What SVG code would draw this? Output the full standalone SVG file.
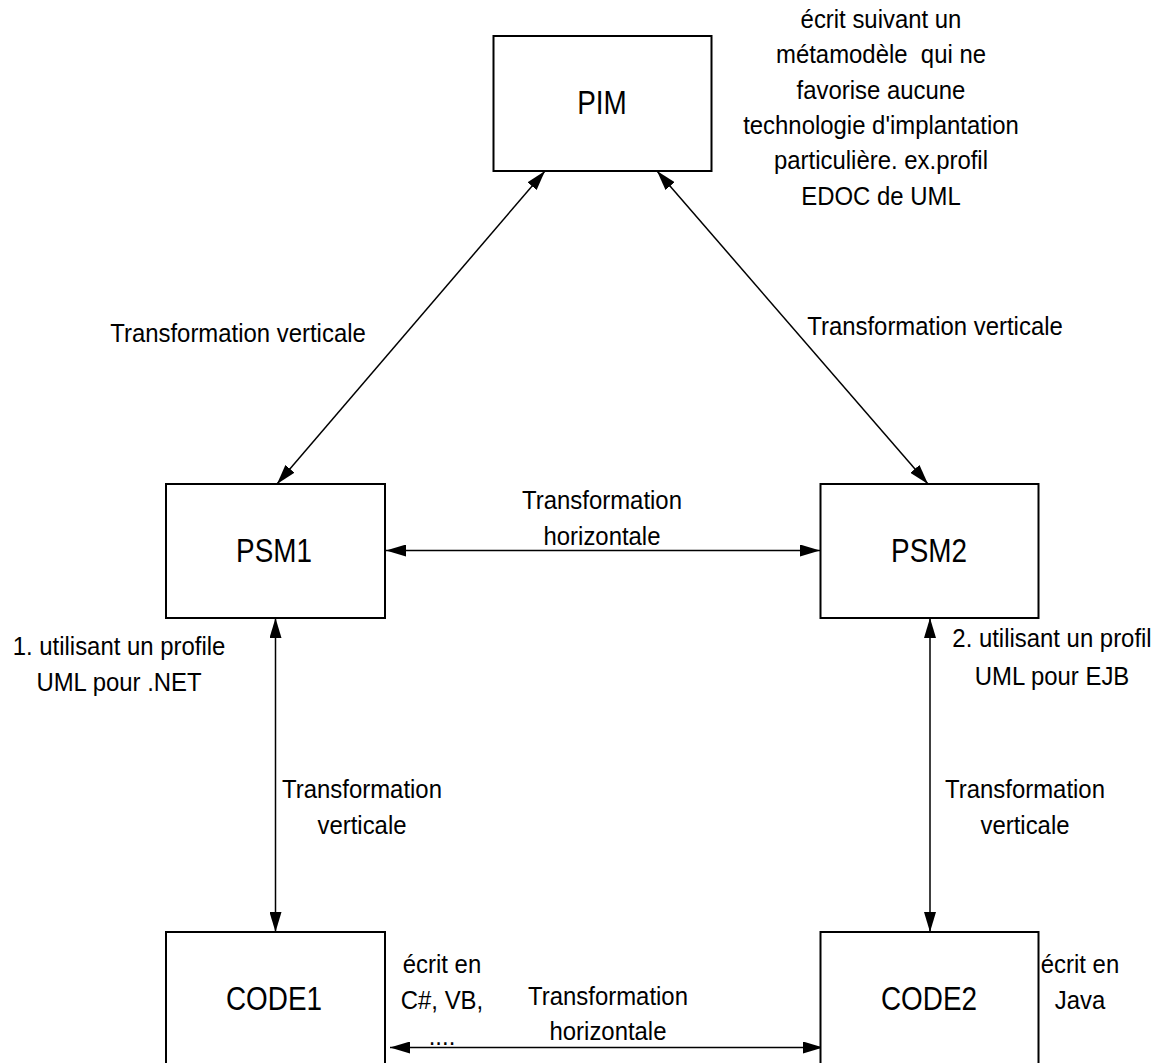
<svg xmlns="http://www.w3.org/2000/svg" width="1169" height="1063" viewBox="0 0 1169 1063">
  <style>
    .box { fill: #ffffff; stroke: #000000; stroke-width: 2; }
    .link { fill: none; stroke: #000000; stroke-width: 1.5; marker-start: url(#head); marker-end: url(#head); }
    .node-label { font-family: "Liberation Sans", Arial, sans-serif; font-size: 34px; fill: #000000; text-anchor: middle; }
    .note { font-family: "Liberation Sans", Arial, sans-serif; font-size: 26px; fill: #000000; text-anchor: middle; }
  </style>
  <defs>
    <marker id="head" markerUnits="userSpaceOnUse" markerWidth="20" markerHeight="12" refX="20" refY="6" orient="auto-start-reverse" viewBox="0 0 20 12">
      <path d="M0,0 L20,6 L0,12 Z" fill="#000000"/>
    </marker>
  </defs>

  <rect width="1169" height="1063" fill="#ffffff"/>

  <!-- connectors -->
  <g id="connectors">
    <line class="link" x1="545" y1="171" x2="277" y2="484"/>
    <line class="link" x1="657" y1="171" x2="928" y2="484"/>
    <line class="link" x1="386" y1="550.5" x2="820" y2="550.5"/>
    <line class="link" x1="275.5" y1="618" x2="275.5" y2="932"/>
    <line class="link" x1="930" y1="618" x2="930" y2="932"/>
    <line class="link" x1="390" y1="1047.5" x2="823" y2="1047.5"/>
  </g>

  <!-- nodes -->
  <g id="pim">
    <rect class="box" x="493.5" y="36" width="218" height="135"/>
    <text class="node-label" transform="translate(602 114) scale(0.82 1)">PIM</text>
  </g>
  <g id="psm1">
    <rect class="box" x="166" y="484" width="219" height="134"/>
    <text class="node-label" transform="translate(274 562) scale(0.82 1)">PSM1</text>
  </g>
  <g id="psm2">
    <rect class="box" x="820.5" y="484" width="218" height="134"/>
    <text class="node-label" transform="translate(929 562) scale(0.82 1)">PSM2</text>
  </g>
  <g id="code1">
    <rect class="box" x="166" y="932" width="219" height="150"/>
    <text class="node-label" transform="translate(274 1010) scale(0.82 1)">CODE1</text>
  </g>
  <g id="code2">
    <rect class="box" x="820.5" y="932" width="218" height="150"/>
    <text class="node-label" transform="translate(929 1010) scale(0.82 1)">CODE2</text>
  </g>

  <!-- annotations -->
  <g id="annotations">
    <text class="note" transform="translate(881 28) scale(0.92 1)"><tspan x="0" y="0">écrit suivant un</tspan><tspan x="0" y="35.3">métamodèle&#160; qui ne</tspan><tspan x="0" y="70.6">favorise aucune</tspan><tspan x="0" y="106">technologie d'implantation</tspan><tspan x="0" y="141.3">particulière. ex.profil</tspan><tspan x="0" y="176.6">EDOC de UML</tspan></text>
    <text class="note" transform="translate(238 342) scale(0.92 1)">Transformation verticale</text>
    <text class="note" transform="translate(935 335) scale(0.92 1)">Transformation verticale</text>
    <text class="note" transform="translate(602 509) scale(0.92 1)"><tspan x="0" y="0">Transformation</tspan><tspan x="0" y="36">horizontale</tspan></text>
    <text class="note" transform="translate(119 655) scale(0.92 1)"><tspan x="0" y="0">1. utilisant un profile</tspan><tspan x="0" y="36">UML pour .NET</tspan></text>
    <text class="note" transform="translate(1052 647) scale(0.92 1)"><tspan x="0" y="0">2. utilisant un profil</tspan><tspan x="0" y="38">UML pour EJB</tspan></text>
    <text class="note" transform="translate(362 798) scale(0.92 1)"><tspan x="0" y="0">Transformation</tspan><tspan x="0" y="36">verticale</tspan></text>
    <text class="note" transform="translate(1025 798) scale(0.92 1)"><tspan x="0" y="0">Transformation</tspan><tspan x="0" y="36">verticale</tspan></text>
    <text class="note" transform="translate(442 973) scale(0.92 1)"><tspan x="0" y="0">écrit en</tspan><tspan x="0" y="36">C#, VB,</tspan><tspan x="0" y="72">....</tspan></text>
    <text class="note" transform="translate(608 1005) scale(0.92 1)"><tspan x="0" y="0">Transformation</tspan><tspan x="0" y="35">horizontale</tspan></text>
    <text class="note" transform="translate(1080 973) scale(0.92 1)"><tspan x="0" y="0">écrit en</tspan><tspan x="0" y="36">Java</tspan></text>
  </g>
</svg>
